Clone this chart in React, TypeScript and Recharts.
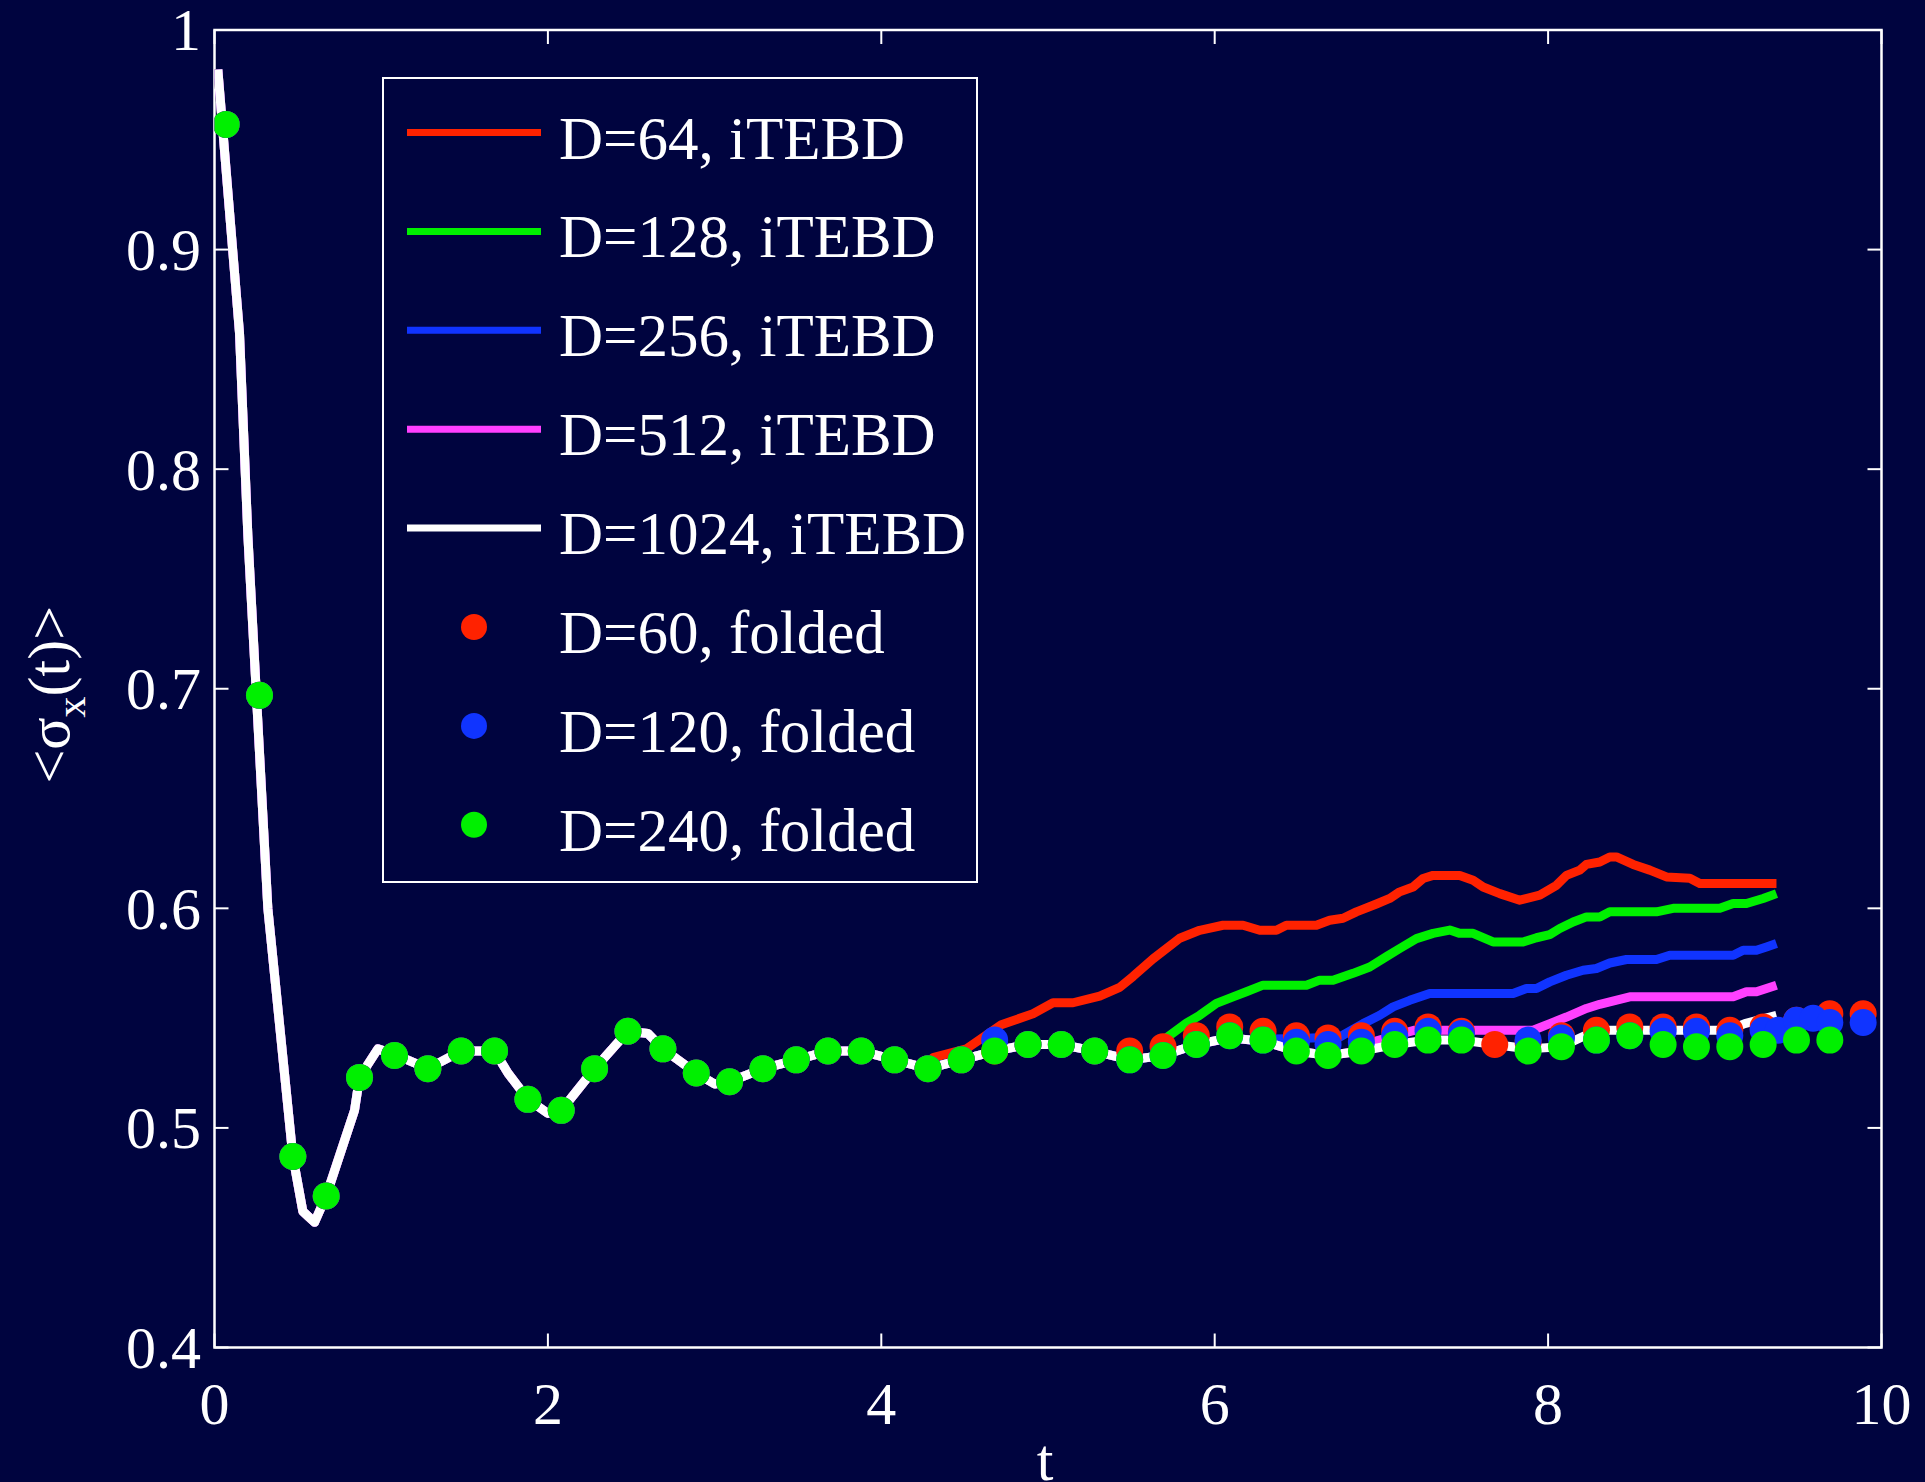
import React from 'react';
import {
  ComposedChart, Line, Scatter, XAxis, YAxis, ReferenceArea, Legend, Label
} from 'recharts';

const BG = '#00043F';
const RED = '#FF2200';
const GREEN = '#00F000';
const BLUE = '#1034FF';
const MAGENTA = '#FF40FF';
const WHITE = '#FFFFFF';
const FONT = '"Liberation Serif", "Times New Roman", serif';

const PLOT_TOP = 30;
const PLOT_RIGHT = 1881.5;

const X_TICKS = [0, 2, 4, 6, 8, 10];
const Y_TICKS = [0.4, 0.5, 0.6, 0.7, 0.8, 0.9, 1];

// D=1024 iTEBD (reference curve)
const WHITE_T = [0.02, 0.15, 0.2, 0.32, 0.47, 0.53, 0.6, 0.67, 0.84, 0.87, 0.98, 1.08, 1.28, 1.48, 1.68, 1.76, 1.88, 2.0, 2.08, 2.28, 2.48, 2.6, 2.69, 2.89, 3.0, 3.09, 3.29, 3.49, 3.68, 3.88, 4.08, 4.28, 4.48, 4.68, 4.88, 5.08, 5.28, 5.49, 5.69, 5.89, 6.09, 6.29, 6.49, 6.68, 6.88, 7.08, 7.28, 7.48, 7.68, 7.88, 8.08, 8.29, 8.49, 9.08, 9.18, 9.37];
const WHITE_V = [0.982, 0.862, 0.77, 0.6, 0.487, 0.462, 0.457, 0.469, 0.508, 0.523, 0.536, 0.5335, 0.527, 0.535, 0.535, 0.525, 0.513, 0.5066, 0.508, 0.527, 0.544, 0.543, 0.536, 0.525, 0.52, 0.521, 0.527, 0.531, 0.535, 0.535, 0.531, 0.527, 0.531, 0.535, 0.538, 0.538, 0.535, 0.531, 0.533, 0.538, 0.541, 0.5395, 0.535, 0.533, 0.535, 0.538, 0.54, 0.54, 0.538, 0.536, 0.537, 0.5445, 0.5445, 0.5445, 0.5475, 0.5513];

// D=64 iTEBD, after it leaves the reference curve
const RED_T = [4.31, 4.51, 4.72, 4.91, 5.03, 5.15, 5.31, 5.43, 5.51, 5.63, 5.79, 5.91, 6.05, 6.17, 6.27, 6.37, 6.43, 6.61, 6.69, 6.77, 6.85, 6.97, 7.05, 7.11, 7.19, 7.25, 7.31, 7.47, 7.55, 7.61, 7.71, 7.83, 7.95, 8.05, 8.11, 8.19, 8.23, 8.31, 8.37, 8.41, 8.51, 8.61, 8.71, 8.85, 8.91, 9.37];
const RED_V = [0.532, 0.536, 0.547, 0.552, 0.557, 0.557, 0.56, 0.564, 0.569, 0.577, 0.5864, 0.59, 0.5923, 0.5923, 0.59, 0.59, 0.5923, 0.5923, 0.5946, 0.5955, 0.5984, 0.602, 0.6045, 0.6075, 0.6097, 0.6136, 0.615, 0.615, 0.6128, 0.6097, 0.6067, 0.6037, 0.606, 0.6105, 0.615, 0.6174, 0.62, 0.6211, 0.6234, 0.6234, 0.62, 0.6174, 0.6143, 0.6137, 0.6113, 0.6113];

// D=128 iTEBD
const GREEN_T = [5.71, 5.83, 5.91, 6.01, 6.11, 6.19, 6.29, 6.55, 6.63, 6.71, 6.83, 6.93, 7.03, 7.11, 7.21, 7.31, 7.41, 7.47, 7.55, 7.67, 7.85, 7.93, 8.01, 8.07, 8.15, 8.23, 8.31, 8.37, 8.65, 8.75, 9.03, 9.11, 9.19, 9.29, 9.37];
const GREEN_V = [0.541, 0.5477, 0.5513, 0.5567, 0.5597, 0.562, 0.565, 0.565, 0.5673, 0.5673, 0.5704, 0.5733, 0.578, 0.5817, 0.5862, 0.5886, 0.5901, 0.5886, 0.5886, 0.5847, 0.5847, 0.5866, 0.588, 0.5908, 0.5938, 0.5961, 0.5961, 0.5984, 0.5984, 0.6, 0.6, 0.6022, 0.6022, 0.6045, 0.6067];

// D=256 iTEBD
const BLUE_T = [6.35, 6.5, 6.75, 6.89, 6.99, 7.07, 7.17, 7.29, 7.79, 7.87, 7.93, 8.01, 8.11, 8.21, 8.29, 8.37, 8.47, 8.65, 8.73, 9.11, 9.17, 9.25, 9.31, 9.37];
const BLUE_V = [0.5405, 0.5407, 0.5414, 0.5475, 0.5513, 0.5551, 0.5581, 0.5612, 0.5612, 0.5635, 0.5635, 0.5665, 0.5695, 0.5718, 0.5726, 0.5751, 0.5767, 0.5767, 0.5786, 0.5786, 0.5809, 0.5809, 0.5824, 0.584];

// D=512 iTEBD
const MAGENTA_T = [6.95, 7.2, 7.91, 8.01, 8.11, 8.23, 8.31, 8.37, 8.49, 9.11, 9.19, 9.25, 9.37];
const MAGENTA_V = [0.5392, 0.5445, 0.5445, 0.5475, 0.5505, 0.5544, 0.5563, 0.5574, 0.5597, 0.5597, 0.562, 0.562, 0.565];

// folded results, sampled every 0.2
const DOT_T = [0.07, 0.27, 0.47, 0.67, 0.87, 1.08, 1.28, 1.48, 1.68, 1.88, 2.08, 2.28, 2.48, 2.69, 2.89, 3.09, 3.29, 3.49, 3.68, 3.88, 4.08, 4.28, 4.48, 4.68, 4.88, 5.08, 5.28, 5.49, 5.69, 5.89, 6.09, 6.29, 6.49, 6.68, 6.88, 7.08, 7.28, 7.48, 7.68, 7.88, 8.08, 8.29, 8.49, 8.69, 8.89, 9.09, 9.29, 9.49, 9.69, 9.89];
const D60_V = [0.957, 0.697, 0.487, 0.469, 0.523, 0.533, 0.527, 0.535, 0.535, 0.513, 0.508, 0.527, 0.544, 0.536, 0.525, 0.521, 0.527, 0.531, 0.535, 0.535, 0.531, 0.527, 0.531, 0.535, 0.538, 0.538, 0.535, 0.535, 0.537, 0.542, 0.546, 0.544, 0.542, 0.541, 0.542, 0.544, 0.546, 0.544, 0.538, 0.539, 0.542, 0.5445, 0.546, 0.546, 0.546, 0.5445, 0.546, 0.549, 0.552, 0.552];
const D120_V = [0.957, 0.697, 0.487, 0.469, 0.523, 0.533, 0.527, 0.535, 0.535, 0.513, 0.508, 0.527, 0.544, 0.536, 0.525, 0.521, 0.527, 0.531, 0.535, 0.535, 0.531, 0.527, 0.531, 0.54, 0.538, 0.538, 0.535, 0.531, 0.533, 0.538, 0.542, 0.54, 0.539, 0.538, 0.539, 0.542, 0.544, 0.543, null, 0.54, 0.541, 0.54, 0.542, 0.544, 0.544, 0.542, 0.5445, 0.549, 0.548, 0.548];
const D120_EXTRA_T = [9.38, 9.59];
const D120_EXTRA_V = [0.5445, 0.55];
const D240_V = [0.957, 0.697, 0.487, 0.469, 0.523, 0.533, 0.527, 0.535, 0.535, 0.513, 0.508, 0.527, 0.544, 0.536, 0.525, 0.521, 0.527, 0.531, 0.535, 0.535, 0.531, 0.527, 0.531, 0.535, 0.538, 0.538, 0.535, 0.531, 0.533, 0.538, 0.542, 0.54, 0.535, 0.533, 0.535, 0.538, 0.54, 0.54, null, 0.535, 0.537, 0.54, 0.542, 0.538, 0.537, 0.537, 0.538, 0.54, 0.54, null];

type Pt = { t: number; v: number };

const toPoints = (ts: number[], vs: (number | null)[]): Pt[] =>
  ts.map((t, i) => ({ t, v: vs[i] as number })).filter((p) => p.v !== null);

const reference = toPoints(WHITE_T, WHITE_V);
// each iTEBD run follows the reference curve until it departs from it
const branch = (ts: number[], vs: number[]) =>
  [...reference.filter((p) => p.t < ts[0]), ...toPoints(ts, vs)];

const d64 = branch(RED_T, RED_V);
const d128 = branch(GREEN_T, GREEN_V);
const d256 = branch(BLUE_T, BLUE_V);
const d512 = branch(MAGENTA_T, MAGENTA_V);
const f60 = toPoints(DOT_T, D60_V);
const f120 = [...toPoints(DOT_T, D120_V), ...toPoints(D120_EXTRA_T, D120_EXTRA_V)].sort((a, b) => a.t - b.t);
const f240 = toPoints(DOT_T, D240_V);

const LEGEND = [
  { name: 'D=64, iTEBD', color: RED, kind: 'line' },
  { name: 'D=128, iTEBD', color: GREEN, kind: 'line' },
  { name: 'D=256, iTEBD', color: BLUE, kind: 'line' },
  { name: 'D=512, iTEBD', color: MAGENTA, kind: 'line' },
  { name: 'D=1024, iTEBD', color: WHITE, kind: 'line' },
  { name: 'D=60, folded', color: RED, kind: 'dot' },
  { name: 'D=120, folded', color: BLUE, kind: 'dot' },
  { name: 'D=240, folded', color: GREEN, kind: 'dot' },
];

const XTick = ({ x, y, payload }: any) => (
  <g>
    <line x1={x} x2={x} y1={y - 34} y2={y - 48} stroke={WHITE} strokeWidth={2} />
    <line x1={x} x2={x} y1={PLOT_TOP} y2={PLOT_TOP + 14} stroke={WHITE} strokeWidth={2} />
    <text x={x} y={y} dy="0.71em" textAnchor="middle" fill={WHITE} fontSize={60} fontFamily={FONT}>
      {payload.value}
    </text>
  </g>
);

const YTick = ({ x, y, payload }: any) => (
  <g>
    <line x1={x + 13.5} x2={x + 27.5} y1={y} y2={y} stroke={WHITE} strokeWidth={2} />
    <line x1={PLOT_RIGHT - 14} x2={PLOT_RIGHT} y1={y} y2={y} stroke={WHITE} strokeWidth={2} />
    <text x={x} y={y} dy="0.34em" textAnchor="end" fill={WHITE} fontSize={60} fontFamily={FONT}>
      {payload.value}
    </text>
  </g>
);

const dot = (color: string) => (p: any) => <circle cx={p.cx} cy={p.cy} r={13.5} fill={color} />;

const LegendBox = () => (
  <svg width={597} height={807} style={{ display: 'block' }}>
    <rect x={1} y={1} width={594} height={804} fill={BG} stroke={WHITE} strokeWidth={2} />
    {LEGEND.map((s, i) => {
      const cy = 55.5 + i * 98.9;
      return (
        <g key={s.name}>
          {s.kind === 'line'
            ? <line x1={25} x2={159} y1={cy} y2={cy} stroke={s.color} strokeWidth={7} />
            : <circle cx={92} cy={cy} r={13} fill={s.color} />}
          <text x={177} y={cy + 26} fill={WHITE} fontSize={61} fontFamily={FONT}>{s.name}</text>
        </g>
      );
    })}
  </svg>
);

document.body.style.margin = '0';
document.body.style.background = BG;

export default function App() {
  return (
    <div style={{ width: 1925, height: 1482, background: BG, position: 'relative', overflow: 'hidden' }}>
      <ComposedChart width={1925} height={1482} margin={{ top: PLOT_TOP, right: 43.5, bottom: 54.5, left: 34.5 }}>
        <XAxis
          dataKey="t" type="number" domain={[0, 10]} ticks={X_TICKS} allowDataOverflow
          height={80} tickSize={0} tickMargin={34} tickLine={false} axisLine={false} tick={<XTick />}
        >
          <Label
            content={({ viewBox }: any) => (
              <text x={viewBox.x + viewBox.width / 2 - 3} y={viewBox.y + 132.5} textAnchor="middle"
                fill={WHITE} fontSize={60} fontFamily={FONT}>t</text>
            )}
          />
        </XAxis>
        <YAxis
          dataKey="v" type="number" domain={[0.4, 1]} ticks={Y_TICKS} allowDataOverflow
          width={180} tickSize={0} tickMargin={13.5} tickLine={false} axisLine={false} tick={<YTick />}
        >
          <Label
            content={({ viewBox }: any) => {
              const cx = viewBox.x + 34.5;
              const cy = viewBox.y + viewBox.height / 2 + 6;
              return (
                <text transform={`translate(${cx},${cy}) rotate(-90)`} textAnchor="middle"
                  fill={WHITE} fontSize={60} fontFamily={FONT}>
                  {'<σ'}
                  <tspan fontSize={42} dy={16}>x</tspan>
                  <tspan dy={-16}>{'(t)>'}</tspan>
                </text>
              );
            }}
          />
        </YAxis>
        <ReferenceArea x1={0} x2={10} y1={0.4} y2={1} fill="none" stroke={WHITE} strokeWidth={2.5} ifOverflow="visible" />
        <Line data={d64} dataKey="v" type="linear" stroke={RED} strokeWidth={9} dot={false} strokeLinejoin="round" isAnimationActive={false} />
        <Line data={d128} dataKey="v" type="linear" stroke={GREEN} strokeWidth={9} dot={false} strokeLinejoin="round" isAnimationActive={false} />
        <Line data={d256} dataKey="v" type="linear" stroke={BLUE} strokeWidth={9} dot={false} strokeLinejoin="round" isAnimationActive={false} />
        <Line data={d512} dataKey="v" type="linear" stroke={MAGENTA} strokeWidth={9} dot={false} strokeLinejoin="round" isAnimationActive={false} />
        <Line data={reference} dataKey="v" type="linear" stroke={WHITE} strokeWidth={9} dot={false} strokeLinejoin="round" isAnimationActive={false} />
        <Scatter data={f60} dataKey="v" shape={dot(RED)} isAnimationActive={false} />
        <Scatter data={f120} dataKey="v" shape={dot(BLUE)} isAnimationActive={false} />
        <Scatter data={f240} dataKey="v" shape={dot(GREEN)} isAnimationActive={false} />
        <Legend
          layout="horizontal" verticalAlign="middle" align="center"
          wrapperStyle={{ left: 382, top: 77, width: 597, height: 807 }}
          content={() => <LegendBox />}
        />
      </ComposedChart>
    </div>
  );
}
